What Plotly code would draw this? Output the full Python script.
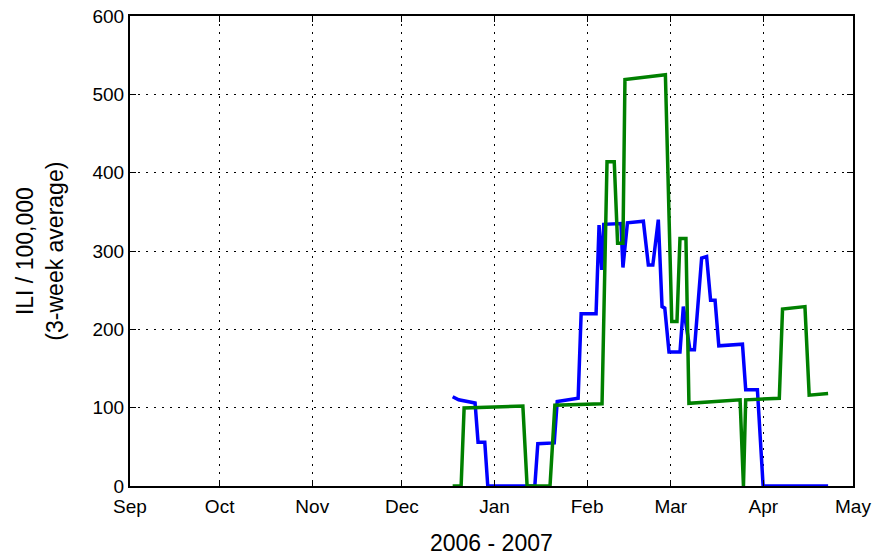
import plotly.graph_objects as go

# Blue series (vertices)
blue_dates = [
    "2006-12-18", "2006-12-20", "2006-12-25 12:00", "2006-12-26 12:00", "2006-12-28 18:00",
    "2006-12-29 18:00", "2007-01-14 12:00", "2007-01-15 12:00", "2007-01-21", "2007-01-22",
    "2007-01-29", "2007-01-30", "2007-02-04", "2007-02-05", "2007-02-05 22:00",
    "2007-02-06 14:00", "2007-02-12 08:00", "2007-02-13", "2007-02-14 12:00", "2007-02-19 20:00",
    "2007-02-21 12:00", "2007-02-23", "2007-02-24 20:00", "2007-02-26 02:00", "2007-02-27",
    "2007-02-28 10:00", "2007-03-04 02:00", "2007-03-05 05:00", "2007-03-07 10:00", "2007-03-08 22:00",
    "2007-03-11 08:00", "2007-03-13", "2007-03-14 08:00", "2007-03-15 20:00", "2007-03-17 02:00",
    "2007-03-25", "2007-03-26 02:00", "2007-03-30", "2007-03-31 22:00", "2007-04-22 16:00",
]
blue_values = [
    114, 110, 106, 56, 56,
    0, 0, 54, 55, 108,
    112, 220, 220, 333, 276,
    334, 335, 279, 336, 338,
    282, 282, 340, 229, 227,
    171, 171, 229, 174, 174,
    291, 293, 237, 237, 179,
    181, 123, 123, 0, 0,
]

# Green series (vertices)
green_dates = [
    "2006-12-18", "2006-12-20 20:00", "2006-12-21 20:00", "2007-01-10 12:00", "2007-01-11 22:00",
    "2007-01-19 14:00", "2007-01-21 05:00", "2007-02-06", "2007-02-07 16:00", "2007-02-10 02:00",
    "2007-02-11 05:00", "2007-02-13", "2007-02-13 16:00", "2007-02-27 05:00", "2007-03-01 08:00",
    "2007-03-03 02:00", "2007-03-04 02:00", "2007-03-06 02:00", "2007-03-07 02:00", "2007-03-24 05:00",
    "2007-03-25 08:00", "2007-03-26 02:00", "2007-04-06 08:00", "2007-04-07 10:00", "2007-04-14 22:00",
    "2007-04-16 08:00", "2007-04-22 16:00",
]
green_values = [
    0, 0, 99.5, 102, 0,
    0, 103, 105, 414, 414,
    310, 310, 519, 525, 210,
    210, 316, 316, 105.5, 110,
    0, 110, 112, 226, 229,
    116, 118,
]

month_ticks = ["2006-09-01", "2006-10-01", "2006-11-01", "2006-12-01", "2007-01-01",
               "2007-02-01", "2007-03-01", "2007-04-01", "2007-05-01"]
month_labels = ["Sep", "Oct", "Nov", "Dec", "Jan", "Feb", "Mar", "Apr", "May"]
y_ticks = [0, 100, 200, 300, 400, 500, 600]

fig = go.Figure()
fig.add_trace(go.Scatter(x=blue_dates, y=blue_values, mode="lines",
                         line=dict(color="#0000ff", width=3.5), showlegend=False))
fig.add_trace(go.Scatter(x=green_dates, y=green_values, mode="lines",
                         line=dict(color="#008000", width=3.5), showlegend=False))

font_family = "Liberation Sans, Arial, sans-serif"
axis_common = dict(
    showline=True, linecolor="black", linewidth=2, mirror="ticks",
    ticks="inside", ticklen=6, tickwidth=1, tickcolor="black",
    showgrid=True, gridcolor="black", gridwidth=1, griddash="2px,6px",
    zeroline=False, automargin=False,
    tickfont=dict(family=font_family, size=19, color="black"),
)

fig.update_xaxes(type="date", range=["2006-09-01", "2007-05-01"],
                 tickmode="array", tickvals=month_ticks, ticktext=month_labels,
                 ticklabelstandoff=2, **axis_common)
fig.update_yaxes(range=[0, 600], tickmode="array", tickvals=y_ticks,
                 ticktext=[str(v) for v in y_ticks], **axis_common)

fig.add_annotation(text="ILI / 100,000<br>(3-week average)", xref="paper", yref="paper",
                   x=-0.125, y=0.5, xanchor="center", yanchor="middle", textangle=-90,
                   showarrow=False, font=dict(family=font_family, size=23, color="black"))
fig.add_annotation(text="2006 - 2007", xref="paper", yref="paper",
                   x=0.5, y=-0.121, xanchor="center", yanchor="middle",
                   showarrow=False, font=dict(family=font_family, size=23, color="black"))

fig.update_layout(width=881, height=557, margin=dict(l=130, r=28, t=16, b=71, pad=0),
                  plot_bgcolor="white", paper_bgcolor="white")

fig.write_html("out.html", config={"displayModeBar": False},
               post_script="document.body.style.margin='0';")
